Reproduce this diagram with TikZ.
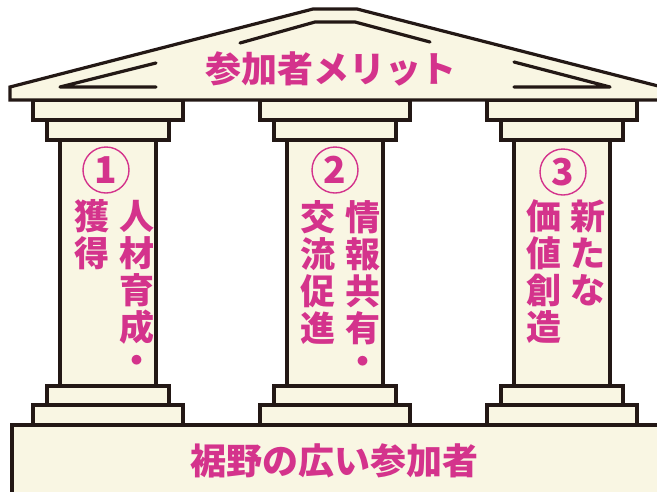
\documentclass[tikz,border=0pt]{standalone}
\usepackage{fontspec}
\newfontfamily\jpfont{Noto Sans CJK JP}
\definecolor{outline}{HTML}{231815}
\definecolor{stone}{HTML}{F9F6E3}
\definecolor{accent}{HTML}{D4338C}
\begin{document}
\begin{tikzpicture}[x=1pt,y=-1pt,
  part/.style={draw=outline,fill=stone,line width=3.2pt,line join=miter},
  groove/.style={draw=outline,line width=3.2pt,line cap=round,line join=round},
  jptext/.style={text=accent,inner sep=0pt,font=\jpfont\bfseries\fontsize{35}{35}\selectfont},
  bigtext/.style={text=accent,inner sep=0pt,font=\jpfont\bfseries\fontsize{36}{36}\selectfont},
  numbadge/.style={circle,draw=accent,line width=1.4pt,minimum size=46pt,inner sep=0pt,
    text=accent,font=\jpfont\bfseries\fontsize{37}{37}\selectfont}]
\useasboundingbox (0,0) rectangle (657,491);
\clip (0,0) rectangle (657,491);

% stylobate
\draw[part] (12,425) rectangle (670,500);

% columns: capital blocks, shaft, base blocks
\foreach \c in {108,335,562} {
  \draw[part] (\c-75,100) rectangle (\c+75,120);
  \draw[part] (\c-61,120) rectangle (\c+61,140);
  \draw[part] (\c-48,140) rectangle (\c+48,386);
  \draw[part] (\c-61,386) rectangle (\c+61,405);
  \draw[part] (\c-75,405) rectangle (\c+75,425);
}

% pediment
\draw[part] (10,100) -- (10,87) -- (313,9) -- (357,9) -- (662,87) -- (662,100) -- cycle;
\draw[groove] (156,63) -- (60,87) -- (156,87);
\draw[groove] (240,43) -- (315,22) -- (355,22) -- (430,42);
\draw[groove] (514,62) -- (610,87) -- (514,87);

% titles
\node[bigtext] (roof) at (331,69) {参加者メリット};
\node[bigtext] (base) at (334.5,461) {裾野の広い参加者};

% numbered badges
\node[numbadge] (n1) at (106,170) {1};
\node[numbadge] (n2) at (335,170) {2};
\node[numbadge] (n3) at (563,172) {3};

% vertical captions (right line read first)
\foreach \ch [count=\i] in {人,材,育,成,・}
  \node[jptext] (a-r\i) at (137,{216+(\i-1)*37}) {\ch};
\foreach \ch [count=\i] in {獲,得}
  \node[jptext] (a-l\i) at (92,{216+(\i-1)*37}) {\ch};
\foreach \ch [count=\i] in {情,報,共,有,・}
  \node[jptext] (b-r\i) at (362.5,{217+(\i-1)*37}) {\ch};
\foreach \ch [count=\i] in {交,流,促,進}
  \node[jptext] (b-l\i) at (317.5,{217+(\i-1)*37}) {\ch};
\foreach \ch [count=\i] in {新,た,な}
  \node[jptext] (c-r\i) at (588,{216+(\i-1)*37}) {\ch};
\foreach \ch [count=\i] in {価,値,創,造}
  \node[jptext] (c-l\i) at (544,{216+(\i-1)*37}) {\ch};
\end{tikzpicture}
\end{document}
